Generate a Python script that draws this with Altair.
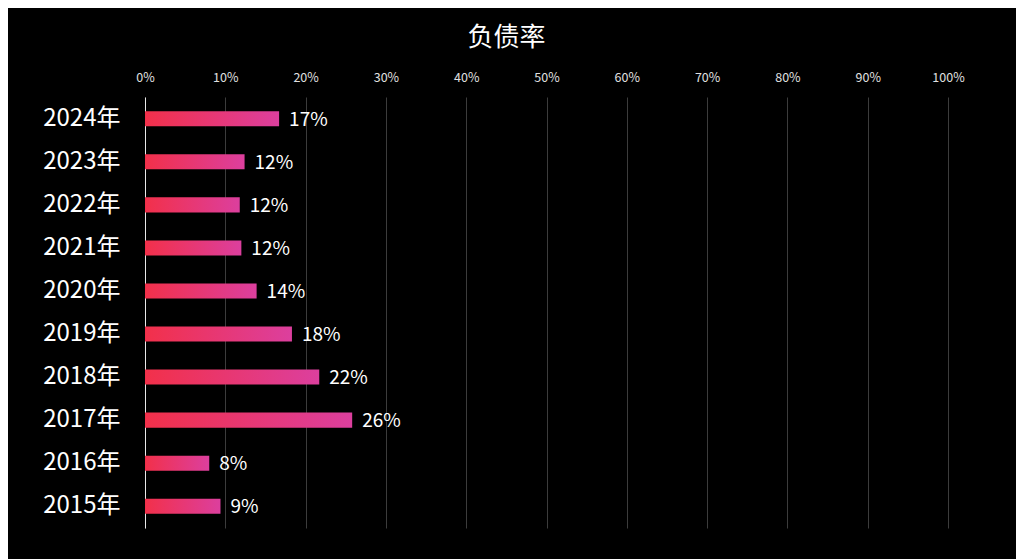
import altair as alt
import pandas as pd

years = ["2024年", "2023年", "2022年", "2021年", "2020年",
         "2019年", "2018年", "2017年", "2016年", "2015年"]
ratios = [0.167, 0.124, 0.118, 0.120, 0.139, 0.183, 0.217, 0.258, 0.080, 0.094]
tick_values = [0, 0.1, 0.2, 0.3, 0.4, 0.5, 0.6, 0.7, 0.8, 0.9, 1.0]

df = pd.DataFrame({"year": years, "ratio": ratios})

FONT = "Noto Sans CJK SC"

grad = alt.Gradient(
    gradient="linear",
    stops=[alt.GradientStop(color="#f2304a", offset=0),
           alt.GradientStop(color="#dc3f9e", offset=1)],
    x1=0, x2=1, y1=0, y2=0,
)

y_enc = alt.Y(
    "year:N", sort=years, title=None,
    scale=alt.Scale(paddingInner=0.65, paddingOuter=0.33),
    axis=alt.Axis(labelColor="white", labelFontSize=24, labelFont=FONT,
                  labelPadding=25, ticks=False, domain=True,
                  domainColor="#e8e8e8", domainWidth=1, grid=False),
)

x_enc = alt.X(
    "ratio:Q", title=None,
    scale=alt.Scale(domain=[0, 1], nice=False),
    axis=alt.Axis(orient="top", values=tick_values, format=".0%",
                  labelColor="#e0e0e0", labelFontSize=12.5, labelFont=FONT,
                  labelPadding=13, labelFlush=False, labelOverlap=False,
                  ticks=False, domain=False,
                  grid=True, gridColor="#3c3c3c", gridWidth=1),
)

bars = alt.Chart(df).mark_bar(color=grad).encode(x=x_enc, y=y_enc)

labels = alt.Chart(df).mark_text(
    align="left", baseline="middle", dx=10, dy=1, color="white",
    fontSize=19, font=FONT,
).encode(
    x=alt.X("ratio:Q"),
    y=alt.Y("year:N", sort=years),
    text=alt.Text("ratio:Q", format=".0%"),
)

chart = alt.layer(bars, labels).properties(
    width=803, height=431,
    background="black",
    padding={"left": 137, "top": 89, "right": 68, "bottom": 31},
    autosize=alt.AutoSizeParams(type="none"),
    title=alt.TitleParams("负债率", color="white", fontSize=26, font=FONT,
                          fontWeight="normal", anchor="middle", frame="group",
                          dx=-40, offset=20),
).configure_view(stroke=None)

chart.save("out.html", embed_options={"renderer": "svg", "actions": False})
